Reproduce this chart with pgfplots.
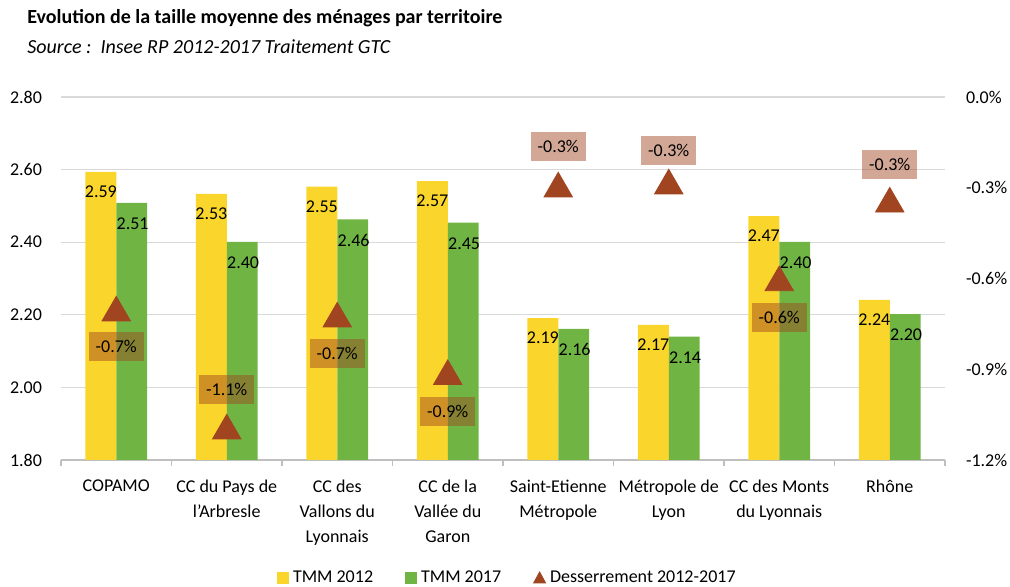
\documentclass[border=0pt]{standalone}
\usepackage{fontspec}
\setmainfont{Carlito}
\usepackage{pgfplots}
\pgfplotsset{compat=1.18}
\usepackage{pgfplotstable}

\definecolor{tmmY}{RGB}{250,214,45}
\definecolor{tmmG}{RGB}{112,181,68}
\definecolor{dessC}{RGB}{160,69,32}
\definecolor{gridc}{RGB}{217,217,217}
\definecolor{axisc}{RGB}{191,191,191}

% taille moyenne des menages
\pgfplotstableread{
x  a12    a17
0  2.594  2.508
1  2.533  2.401
2  2.553  2.463
3  2.568  2.454
4  2.191  2.161
5  2.172  2.140
6  2.472  2.401
7  2.241  2.202
}\tmm

% desserrement (%), dy = position de l'etiquette
\pgfplotstableread{
x  d      dy
0  -0.70  -17
1  -1.09  20.5
2  -0.72  -17.5
3  -0.91  -17.5
4  -0.29  21
5  -0.28  17.5
6  -0.60  -17.5
7  -0.34  19.5
}\dess

\begin{document}
\begin{tikzpicture}
\path[use as bounding box] (-30.5pt,-63.5pt) rectangle (474.5pt,230pt);
\node[anchor=west, inner sep=0pt, font=\bfseries\fontsize{10}{12}\selectfont] at (-17pt,221pt)
  {Evolution de la taille moyenne des ménages par territoire};
\node[anchor=west, inner sep=0pt, font=\itshape\fontsize{10}{12}\selectfont] at (-17pt,206.5pt)
  {Source :\ \ Insee RP 2012-2017 Traitement GTC};

\begin{axis}[
    at={(0,0)}, anchor=south west,
    scale only axis, width=442pt, height=181.5pt,
    xmin=-0.5, xmax=7.5, ymin=1.8, ymax=2.8,
    axis x line*=bottom, axis y line*=left,
    y axis line style={draw=none},
    x axis line style={draw=axisc, line width=0.6pt},
    ymajorgrids, grid style={draw=gridc, line width=0.6pt},
    ytick={1.8,2.0,2.2,2.4,2.6,2.8},
    yticklabel style={font=\fontsize{9}{11}\selectfont, xshift=-6pt,
      /pgf/number format/.cd, fixed, fixed zerofill, precision=2, assume math mode=true},
    xtick={0,...,7},
    xticklabels={COPAMO, {CC du Pays de\\l'Arbresle}, {CC des\\Vallons du\\Lyonnais},
      {CC de la\\Vallée du\\Garon}, {Saint-Etienne\\Métropole}, {Métropole de\\Lyon},
      {CC des Monts\\du Lyonnais}, Rhône},
    xticklabel style={align=center, font=\fontsize{9}{12.5}\selectfont, yshift=-6.5pt},
    minor xtick={-0.5,0.5,...,7.5},
    major tick length=0pt, minor tick length=3pt,
    tick align=outside, tick style={draw=axisc, line width=0.6pt},
    legend style={at={(axis description cs:0.506,-0.325)}, anchor=center,
      draw=none, fill=none, font=\fontsize{9}{11}\selectfont, legend columns=3,
      /tikz/every even column/.append style={column sep=14pt}},
]
\addplot[ybar, bar width=0.28, bar shift=-0.14, fill=tmmY, draw=none,
    nodes near coords={\pgfmathprintnumber[fixed,fixed zerofill,precision=2,assume math mode=true]{\pgfplotspointmeta}},
    point meta=y,
    every node near coord/.append style={anchor=center, xshift=-7.7pt, yshift=-10pt, text=black,
      font=\fontsize{9}{11}\selectfont},
    legend image code/.code={\fill[tmmY] (0pt,-3pt) rectangle (6pt,3pt);}]
    table[x=x, y=a12] {\tmm};
\addlegendentry{TMM 2012}
\addplot[ybar, bar width=0.28, bar shift=0.14, fill=tmmG, draw=none,
    nodes near coords={\pgfmathprintnumber[fixed,fixed zerofill,precision=2,assume math mode=true]{\pgfplotspointmeta}},
    point meta=y,
    every node near coord/.append style={anchor=center, xshift=8.2pt, yshift=-10.5pt, text=black,
      font=\fontsize{9}{11}\selectfont},
    legend image code/.code={\fill[tmmG] (0pt,-3pt) rectangle (6pt,3pt);}]
    table[x=x, y=a17] {\tmm};
\addlegendentry{TMM 2017}
\addlegendimage{legend image code/.code={\fill[dessC] (0pt,-2.5pt) -- (6pt,-2.5pt) -- (3pt,3pt) -- cycle;}}
\addlegendentry{Desserrement 2012-2017}
\end{axis}

\begin{axis}[
    at={(0,0)}, anchor=south west,
    scale only axis, width=442pt, height=181.5pt,
    xmin=-0.5, xmax=7.5, ymin=-1.2, ymax=0,
    axis x line=none, axis y line*=right,
    y axis line style={draw=none},
    major tick length=0pt,
    ytick={-1.2,-0.9,-0.6,-0.3,0},
    yticklabels={-1.2\%,-0.9\%,-0.6\%,-0.3\%,0.0\%},
    yticklabel style={font=\fontsize{9}{11}\selectfont, xshift=7pt},
    clip=false,
]
\addplot[only marks, mark=triangle*, mark size=8.2pt, color=dessC,
    mark options={yshift=-2pt},
    point meta=y,
    visualization depends on={\thisrow{dy} \as \dy},
    nodes near coords={\pgfmathprintnumber[fixed,fixed zerofill,precision=1,assume math mode=true]{\pgfplotspointmeta}\%},
    every node near coord/.append style={anchor=center, yshift=\dy pt, fill=dessC,
      fill opacity=0.47, text opacity=1, text=black, inner sep=0pt,
      minimum width=27.5pt, minimum height=14.5pt, font=\fontsize{9}{11}\selectfont}]
    table[x=x, y=d] {\dess};
\end{axis}
\end{tikzpicture}
\end{document}
